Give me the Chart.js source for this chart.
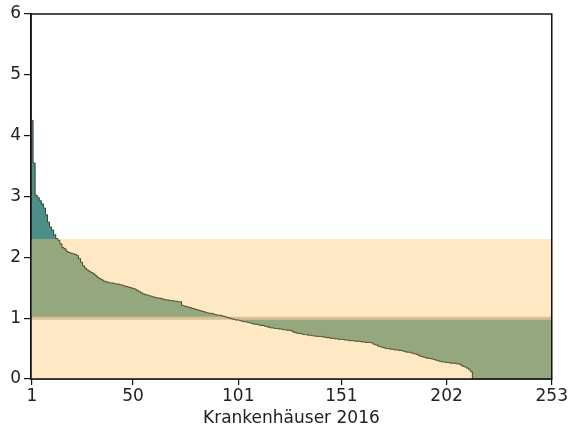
<!DOCTYPE html>
<html>
<head>
<meta charset="utf-8">
<script src="https://cdn.jsdelivr.net/npm/chart.js@4.4.1/dist/chart.umd.min.js"></script>
<style>
  html, body { margin: 0; padding: 0; background: #fff; }
  #wrap { width: 569px; height: 433px; }
</style>
</head>
<body>
<div id="wrap"><canvas id="mycanvas" width="569" height="433"></canvas></div>
<script>
// values per hospital, sorted descending
var werte = [
  4.25, 3.55, 3.02, 2.98, 2.93, 2.88, 2.81, 2.70, 2.58, 2.50,
  2.45, 2.37, 2.31, 2.28, 2.22, 2.16, 2.14, 2.10, 2.08, 2.07,
  2.06, 2.05, 2.03, 1.98, 1.92, 1.86, 1.82, 1.79, 1.77, 1.75,
  1.73, 1.70, 1.67, 1.65, 1.63, 1.61, 1.60, 1.59, 1.58, 1.58,
  1.57, 1.56, 1.56, 1.55, 1.54, 1.53, 1.52, 1.51, 1.50, 1.49,
  1.48, 1.46, 1.44, 1.42, 1.40, 1.39, 1.38, 1.37, 1.36, 1.35,
  1.34, 1.33, 1.33, 1.32, 1.31, 1.30, 1.30, 1.29, 1.29, 1.28,
  1.28, 1.27, 1.27, 1.21, 1.20, 1.19, 1.18, 1.17, 1.16, 1.15,
  1.14, 1.13, 1.12, 1.11, 1.10, 1.09, 1.08, 1.08, 1.07, 1.06,
  1.05, 1.05, 1.04, 1.03, 1.02, 1.01, 1.00, 0.99, 0.98, 0.97,
  0.97, 0.96, 0.95, 0.94, 0.94, 0.93, 0.92, 0.91, 0.90, 0.90,
  0.89, 0.88, 0.88, 0.87, 0.86, 0.85, 0.84, 0.84, 0.83, 0.83,
  0.82, 0.82, 0.81, 0.81, 0.80, 0.80, 0.79, 0.77, 0.76, 0.75,
  0.75, 0.74, 0.73, 0.73, 0.72, 0.72, 0.71, 0.71, 0.70, 0.70,
  0.70, 0.69, 0.69, 0.68, 0.68, 0.67, 0.67, 0.66, 0.66, 0.65,
  0.65, 0.65, 0.64, 0.64, 0.63, 0.63, 0.63, 0.62, 0.62, 0.62,
  0.61, 0.61, 0.60, 0.60, 0.60, 0.59, 0.57, 0.56, 0.54, 0.53,
  0.52, 0.51, 0.50, 0.50, 0.49, 0.49, 0.48, 0.48, 0.47, 0.47,
  0.46, 0.45, 0.44, 0.44, 0.43, 0.42, 0.41, 0.40, 0.38, 0.37,
  0.36, 0.35, 0.34, 0.34, 0.33, 0.32, 0.31, 0.30, 0.29, 0.28,
  0.28, 0.27, 0.27, 0.26, 0.26, 0.26, 0.25, 0.25, 0.23, 0.21,
  0.20, 0.18, 0.16, 0.12, 0, 0, 0, 0, 0, 0,
  0, 0, 0, 0, 0, 0, 0, 0, 0, 0,
  0, 0, 0, 0, 0, 0, 0, 0, 0, 0,
  0, 0, 0, 0, 0, 0, 0, 0, 0, 0,
  0, 0, 0
];
var xTicks = [1, 50, 101, 151, 202, 253];
var yTicks = [0, 1, 2, 3, 4, 5, 6];
var referenz = 1;      // line at 1
var obereGrenze = 2.3; // top of the shaded band
var xTitel = 'Krankenhäuser 2016';

var punkte = [];
for (var i = 0; i < werte.length; i++) {
  punkte.push({x: i + 1, y: werte[i]});
}

var band = {
  id: 'band',
  beforeDatasetsDraw: function(chart) {
    var ctx = chart.ctx, a = chart.chartArea, y = chart.scales.y;
    var top = y.getPixelForValue(obereGrenze);
    ctx.save();
    ctx.fillStyle = '#fee9c4';
    ctx.fillRect(a.left, top, a.right - a.left, y.getPixelForValue(0) - top);
    ctx.restore();
  },
  afterDraw: function(chart) {
    var ctx = chart.ctx, a = chart.chartArea;
    ctx.save();
    ctx.strokeStyle = '#111';
    ctx.lineWidth = 1.5;
    ctx.strokeRect(a.left, a.top, a.right - a.left, a.bottom - a.top);
    ctx.restore();
  }
};

Chart.defaults.font.family = '"DejaVu Sans", Verdana, sans-serif';
Chart.defaults.color = '#222';

var ctx = document.getElementById('mycanvas');
new Chart(ctx, {
  type: 'line',
  data: {
    datasets: [
      {
        // outline of the sorted values
        data: punkte,
        borderColor: '#4a4427',
        borderWidth: 1,
        stepped: 'middle',
        pointRadius: 0,
        fill: false,
        order: 0
      },
      {
        data: [{x: 0.5, y: referenz}, {x: 253, y: referenz}],
        borderColor: '#d8bf95',
        borderWidth: 3,
        pointRadius: 0,
        fill: false,
        order: 1
      },
      {
        // part above the band
        data: punkte,
        borderWidth: 0,
        borderColor: 'rgba(0,0,0,0)',
        stepped: 'middle',
        pointRadius: 0,
        fill: { target: { value: obereGrenze }, above: '#4b8e8a', below: 'rgba(0,0,0,0)' },
        order: 2
      },
      {
        // deviation from 1
        data: punkte,
        borderWidth: 0,
        borderColor: 'rgba(0,0,0,0)',
        stepped: 'middle',
        pointRadius: 0,
        fill: { target: { value: referenz }, above: '#94a77d', below: '#94a77d' },
        order: 3
      }
    ]
  },
  options: {
    responsive: false,
    animation: false,
    layout: { padding: { left: 0, right: 16, top: 14, bottom: 0 } },
    plugins: { legend: { display: false }, tooltip: { enabled: false } },
    scales: {
      x: {
        type: 'linear',
        min: 0.5,
        max: 253,
        offset: false,
        afterBuildTicks: function(scale) {
          scale.ticks = xTicks.map(function(t) { return {value: t}; });
        },
        afterFit: function(scale) { scale.height = 54; },
        ticks: { font: { size: 17 }, color: '#222', padding: 1, autoSkip: false, maxRotation: 0 },
        grid: { offset: false, drawOnChartArea: false, tickLength: 6, color: '#111', lineWidth: 1.2 },
        border: { color: '#111', width: 1.5 },
        title: { display: true, text: xTitel, font: { size: 17 }, color: '#222', padding: { top: 0 } }
      },
      y: {
        min: 0,
        max: 6,
        afterBuildTicks: function(scale) {
          scale.ticks = yTicks.map(function(t) { return {value: t}; });
        },
        afterFit: function(scale) { scale.width = 31; },
        ticks: { font: { size: 17 }, color: '#222', padding: 3 },
        grid: { drawOnChartArea: false, tickLength: 7, color: '#111', lineWidth: 1.2 },
        border: { color: '#111', width: 1.5 }
      }
    }
  },
  plugins: [band]
});
</script>
</body>
</html>
